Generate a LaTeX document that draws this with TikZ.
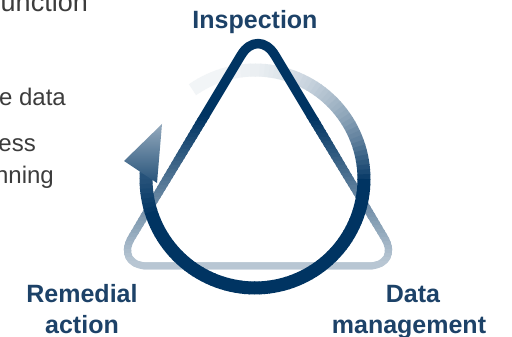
\documentclass[tikz,border=0pt]{standalone}
\usepackage{fontspec}
\setmainfont{Liberation Sans}
\definecolor{navy}{HTML}{003462}
\definecolor{lbl}{HTML}{1D4268}
\definecolor{greytext}{HTML}{3C3C3C}
\tikzset{
  lblstyle/.style={text=lbl, inner sep=0pt, font=\fontsize{25}{30}\selectfont\bfseries},
  sidetext/.style={text=greytext, inner sep=0pt, anchor=base east, font=\fontsize{24}{29}\selectfont},
  trianglestroke/.style={rounded corners=33pt, line join=round},
  arcseg/.style={line width=13pt}
}
\newcommand{\tripath}{(186,71) -- (114.6,71) -- (258,310) -- (401.4,71) -- cycle}
\begin{document}
\begin{tikzpicture}[x=1pt,y=1pt]
\useasboundingbox (0,0) rectangle (512,337);
\fill[white] (0,0) rectangle (512,337);
\def\cx{255}\def\cy{158}\def\R{109}

% side text (cut off at the left edge)
\node[sidetext, font=\fontsize{27}{32}\selectfont] (s1) at (88,325) {unction};
\node[sidetext] (s2) at (66,231) {e data};
\node[sidetext] (s3) at (36,185) {ess};
\node[sidetext] (s4) at (54,153) {nning};

% tail of the circular arrow (under the triangle)
\foreach \a in {125,122.5,...,17.5} {
  \pgfmathsetmacro\t{(125-\a)/125}
  \pgfmathtruncatemacro\p{5+95*\t*\t*sqrt(\t)}
  \draw[arcseg, color=navy!\p!white] (\cx,\cy) ++(\a:\R) arc[start angle=\a, end angle=\a-2.9, radius=\R];
}

% triangle with vertical gradient stroke
\begin{scope}
  \clip (0,218.7) rectangle (512,337);
  \draw[trianglestroke, navy, line width=9.5pt] \tripath;
\end{scope}
\foreach \i in {0,...,38} {
  \pgfmathsetmacro\yt{219-4*\i+0.3}
  \pgfmathsetmacro\yb{219-4*\i-4-0.3}
  \pgfmathsetmacro\f{min(1,(4*\i+2)/146)}
  \pgfmathtruncatemacro\p{100-72*\f}
  \pgfmathsetmacro\lw{9.5-2.5*\f}
  \begin{scope}
    \clip (0,\yb) rectangle (512,\yt);
    \draw[trianglestroke, color=navy!\p!white, line width=\lw pt] \tripath;
  \end{scope}
}

% rest of the circular arrow (over the triangle)
\foreach \a in {15,12.5,...,-182.5} {
  \pgfmathsetmacro\t{max(0,(125-\a)/125)}
  \pgfmathsetmacro\q{\a>=0 ? 5+95*min(1,\t)*min(1,\t)*sqrt(min(1,\t)) : (\a>=-160 ? 100 : 100-18*(-160-\a)/24)}
  \pgfmathtruncatemacro\p{min(100,\q)}
  \draw[arcseg, color=navy!\p!white] (\cx,\cy) ++(\a:\R) arc[start angle=\a, end angle=\a-2.9, radius=\R];
}

% arrowhead
\shade[top color=navy!42!white, bottom color=navy!85!white] (162,213) -- (124,176) -- (157,154) -- cycle;

% labels
\node[lblstyle, anchor=base] (insp) at (255,308) {Inspection};
\node[lblstyle, anchor=base] (rem1) at (82,34) {Remedial};
\node[lblstyle, anchor=base] (rem2) at (82,3) {action};
\node[lblstyle, anchor=base] (dat1) at (413,34) {Data};
\node[lblstyle, anchor=base] (dat2) at (409,3) {management};
\end{tikzpicture}
\end{document}
